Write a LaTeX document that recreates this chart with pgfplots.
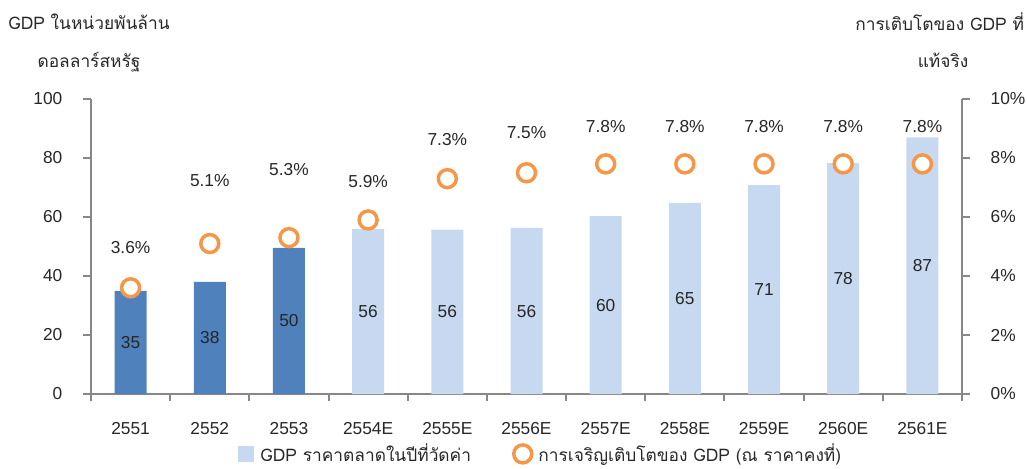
\documentclass[border=0pt]{standalone}
\usepackage{pgfplots}
\usepackage{pgfplotstable}
\pgfplotsset{compat=1.18}
\usepackage{fontspec}
\setmainfont{Liberation Sans}
\newfontfamily\thai[Script=Thai]{Loma}
\definecolor{darkbar}{HTML}{4F81BD}
\definecolor{lightbar}{HTML}{C6D9F1}
\definecolor{orng}{HTML}{F79646}
\definecolor{axgray}{HTML}{878787}
\definecolor{txt}{HTML}{262626}

% x = position, gdp = GDP (bn USD), g = real growth (%), ly = label height (%)
\pgfplotstableread{
x gdp g ly
0 35 3.6 4.98
1 38 5.1 7.25
2 50 5.3 7.60
3 56 5.9 7.19
4 56 7.3 8.64
5 56 7.5 8.85
6 60 7.8 9.08
7 65 7.8 9.08
8 71 7.8 9.08
9 78 7.8 9.08
10 87 7.8 9.08
}\datatable
\pgfplotstableread{
x gdp
0 35
1 38
2 49.5
}\actual
\pgfplotstableread{
x gdp
3 56
4 55.7
5 56.3
6 60.3
7 64.8
8 70.8
9 78.3
10 87
}\estimate

\tikzset{myfont/.style={font=\fontsize{13}{15}\selectfont, text=txt}}
\pgfplotsset{
  common/.style={
    at={(0,0)}, anchor=south west, scale only axis,
    width=653.25pt, height=221.25pt,
    xmin=-0.5, xmax=10.5, clip=false,
    tick align=outside,
    axis line style={axgray, line width=1.5pt},
    every tick/.style={axgray, line width=1.5pt},
    major tick length=6pt,
    tick label style={myfont},
    /pgf/number format/assume math mode=true,
  },
}

\begin{document}
\begin{tikzpicture}
\useasboundingbox (-68.25pt,-55.5pt) rectangle (702pt,295.5pt);
\begin{axis}[
  common,
  ymin=0, ymax=100,
  axis y line*=left, axis x line*=bottom,
  xtick={0,...,10},
  xticklabels={2551,2552,2553,2554E,2555E,2556E,2557E,2558E,2559E,2560E,2561E},
  major x tick style={draw=none},
  minor xtick={-0.5,0.5,...,10.5},
  minor tick length=5.25pt,
  xticklabel style={yshift=-12pt},
  ytick={0,20,...,100},
  yticklabel style={xshift=-12pt},
]
\addplot[ybar, bar width=24pt, bar shift=0pt, fill=darkbar, draw=none] table[x=x, y=gdp] {\actual};
\addplot[ybar, bar width=24pt, bar shift=0pt, fill=lightbar, draw=none] table[x=x, y=gdp] {\estimate};
\addplot[draw=none, mark=none, nodes near coords, point meta=explicit,
  every node near coord/.style={anchor=center, myfont}]
  table[x=x, y expr=\thisrow{gdp}/2, meta=gdp] {\datatable};
\end{axis}
\begin{axis}[
  common,
  ymin=0, ymax=10,
  axis y line*=right, axis x line=none,
  ytick={0,2,...,10},
  yticklabel={\pgfmathprintnumber{\tick}\%},
  yticklabel style={xshift=12pt},
  legend style={at={(axis description cs:0.169,-0.203)}, anchor=west, draw=none,
    fill=none, myfont, legend columns=2, inner sep=0pt,
    /tikz/every even column/.append style={column sep=30pt},
    /tikz/every odd column/.append style={column sep=3pt}},
  legend cell align=left,
]
\addlegendimage{legend image code/.code={\fill[lightbar] (0pt,-5.5pt) rectangle (11pt,5.5pt);}}
\addlegendentry{\thai GDP ราคาตลาดในปีที่วัดค่า}
\addplot[only marks, mark=*, mark size=6.75pt,
  mark options={draw=orng, fill=white, line width=2.6pt}]
  table[x=x, y=g] {\datatable};
\addlegendentry{\thai การเจริญเติบโตของ GDP (ณ ราคาคงที่)}
\addplot[draw=none, mark=none, nodes near coords={\pgfmathprintnumber[fixed, fixed zerofill, precision=1]{\pgfplotspointmeta}\%},
  point meta=explicit, forget plot,
  every node near coord/.style={anchor=center, myfont}]
  table[x=x, y=ly, meta=g] {\datatable};
\end{axis}
\node[myfont, align=center] at (-1.5pt,279pt) {\thai GDP ในหน่วยพันล้าน};
\node[myfont, align=center] at (-1.5pt,249pt) {\thai ดอลลาร์สหรัฐ};
\node[myfont, align=center] at (636.5pt,279pt) {\thai การเติบโตของ GDP ที่};
\node[myfont, align=center] at (639pt,250.5pt) {\thai แท้จริง};
\end{tikzpicture}
\end{document}
